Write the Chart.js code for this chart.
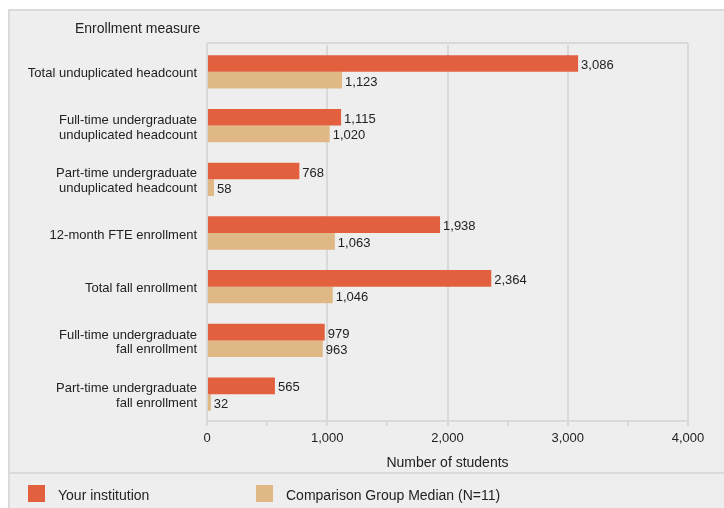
<!DOCTYPE html>
<html>
<head>
<meta charset="utf-8">
<script src="https://cdn.jsdelivr.net/npm/chart.js@4.4.0/dist/chart.umd.min.js"></script>
<style>
  html, body { margin: 0; padding: 0; background: #fff; }
  #wrap { position: relative; width: 724px; height: 508px; }
</style>
</head>
<body>
<div id="wrap"><canvas id="grafico" width="724" height="508"></canvas></div>
<script>
// datos
const categorias = [
    'Total unduplicated headcount',
    ['Full-time undergraduate', 'unduplicated headcount'],
    ['Part-time undergraduate', 'unduplicated headcount'],
    '12-month FTE enrollment',
    'Total fall enrollment',
    ['Full-time undergraduate', 'fall enrollment'],
    ['Part-time undergraduate', 'fall enrollment']
];
const institucion = [3086, 1115, 768, 1938, 2364, 979, 565];
const comparacion = [1123, 1020, 58, 1063, 1046, 963, 32];
const series = ['Your institution', 'Comparison Group Median (N=11)'];
const colores = ['#e3603f', '#dfb886'];
const ticksX = [0, 1000, 2000, 3000, 4000];

const fuente = '"Liberation Sans", Arial, sans-serif';
const gris = '#d9d9d9';
Chart.defaults.font.family = fuente;
Chart.defaults.color = '#222';

// fondo, titulo del eje y leyenda
const marco = {
    id: 'marco',
    beforeDraw(chart) {
        const c = chart.ctx;
        c.save();
        c.fillStyle = '#eeeeee';
        c.fillRect(8, 9, 716, 499);
        c.strokeStyle = '#dadada';
        c.lineWidth = 2;
        c.beginPath();
        c.moveTo(9, 508); c.lineTo(9, 10); c.lineTo(724, 10);
        c.moveTo(9, 473); c.lineTo(724, 473);
        c.stroke();
        c.fillStyle = '#222';
        c.font = '14px ' + fuente;
        c.textBaseline = 'middle';
        c.fillText('Enrollment measure', 75, 29);
        // leyenda
        const posX = [28, 256];
        for (let i = 0; i < series.length; i++) {
            c.fillStyle = colores[i];
            c.fillRect(posX[i], 485, 17, 17);
            c.fillStyle = '#222';
            c.fillText(series[i], posX[i] + 30, 496);
        }
        c.restore();
    },
    afterDatasetsDraw(chart) {
        const c = chart.ctx;
        const a = chart.chartArea;
        c.save();
        c.strokeStyle = gris;
        c.lineWidth = 2;
        c.beginPath();
        c.moveTo(a.left, 43); c.lineTo(a.right, 43);
        c.moveTo(a.left, 43); c.lineTo(a.left, a.top);
        c.moveTo(a.right, 43); c.lineTo(a.right, a.top);
        c.stroke();
        // etiquetas de valores
        c.font = '13px ' + fuente;
        c.fillStyle = '#222';
        c.textBaseline = 'middle';
        chart.data.datasets.forEach((ds, i) => {
            chart.getDatasetMeta(i).data.forEach((bar, j) => {
                c.fillText(ds.data[j].toLocaleString('en-US'), bar.x + 3, bar.y + 2);
            });
        });
        c.restore();
    }
};

new Chart(document.getElementById('grafico'), {
    type: 'bar',
    data: {
        labels: categorias,
        datasets: [{
            label: series[0],
            data: institucion,
            backgroundColor: colores[0]
        }, {
            label: series[1],
            data: comparacion,
            backgroundColor: colores[1]
        }]
    },
    options: {
        indexAxis: 'y',
        responsive: false,
        animation: false,
        devicePixelRatio: 1,
        layout: { padding: { top: 45, right: 36, bottom: 32, left: 0 } },
        datasets: { bar: { categoryPercentage: 0.62, barPercentage: 1 } },
        plugins: { legend: { display: false }, tooltip: { enabled: false } },
        scales: {
            x: {
                min: ticksX[0],
                max: ticksX[ticksX.length - 1],
                afterFit(s) { s.height = 55; },
                ticks: {
                    stepSize: 500,
                    autoSkip: false,
                    maxRotation: 0,
                    padding: 5,
                    font: { size: 13 },
                    callback: v => ticksX.includes(v) ? v.toLocaleString('en-US') : ''
                },
                grid: {
                    color: ctx => ctx.tick && ticksX.includes(ctx.tick.value) ? gris : 'rgba(0,0,0,0)',
                    tickColor: gris,
                    lineWidth: 2,
                    tickLength: 5
                },
                border: { color: gris, width: 2 },
                title: {
                    display: true,
                    text: 'Number of students',
                    font: { size: 14 },
                    color: '#222',
                    padding: { top: 4, bottom: 4 }
                }
            },
            y: {
                afterFit(s) { s.width = 207; },
                ticks: { padding: 10, labelOffset: 2, font: { size: 13, lineHeight: 1.15 } },
                grid: { display: false, drawTicks: false },
                border: { color: gris, width: 2 }
            }
        }
    },
    plugins: [marco]
});
</script>
</body>
</html>
